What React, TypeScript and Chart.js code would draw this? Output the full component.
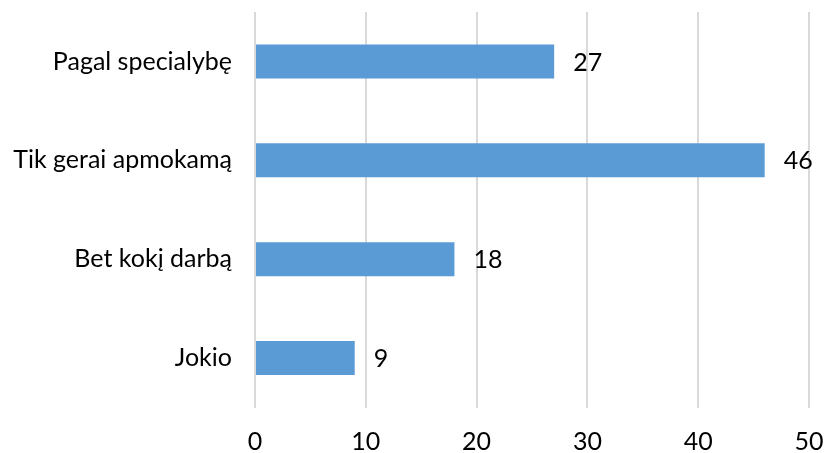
import React, { useEffect, useRef } from "react";
import { Chart, registerables } from "chart.js";

Chart.register(...registerables);

const categories = ["Pagal specialybę", "Tik gerai apmokamą", "Bet kokį darbą", "Jokio"];
const values = [27, 46, 18, 9];
const xTicks = [0, 10, 20, 30, 40, 50];

const FONT = "Lato, 'Open Sans', sans-serif";
const FSIZE = 25;

const labelPlugin = {
  id: "barLabels",
  afterDatasetsDraw(chart: any) {
    const ctx = chart.ctx;
    const meta = chart.getDatasetMeta(0);
    ctx.save();
    ctx.font = `${FSIZE}px ${FONT}`;
    ctx.fillStyle = "#000000";
    ctx.textAlign = "left";
    ctx.textBaseline = "middle";
    meta.data.forEach((bar: any, i: number) => {
      ctx.fillText(String(values[i]), bar.x + 19, bar.y + 1);
    });
    ctx.restore();
  },
};

export default function App() {
  const ref = useRef<HTMLCanvasElement>(null);
  useEffect(() => {
    const chart = new Chart(ref.current!, {
      type: "bar",
      data: {
        labels: categories,
        datasets: [
          {
            data: values,
            backgroundColor: "#5b9bd5",
            borderWidth: 0,
            barPercentage: 0.343,
            categoryPercentage: 1,
          },
        ],
      },
      options: {
        indexAxis: "y",
        animation: false,
        responsive: false,
        maintainAspectRatio: false,
        layout: { padding: { top: 12, right: 17, left: 0, bottom: 0 } },
        plugins: { legend: { display: false }, tooltip: { enabled: false } },
        scales: {
          x: {
            min: 0,
            max: 50,
            afterBuildTicks: (scale: any) => {
              scale.ticks = xTicks.map((v) => ({ value: v }));
            },
            grid: { color: "#d9d9d9", lineWidth: 2, drawTicks: false },
            border: { display: false },
            ticks: { color: "#000000", font: { family: FONT, size: FSIZE }, padding: 19 },
            afterFit: (scale: any) => {
              scale.height = 45.5;
              scale.paddingLeft = 0;
              scale.paddingRight = 0;
              scale.paddingTop = 0;
              scale.paddingBottom = 0;
            },
          },
          y: {
            grid: { display: false },
            border: { display: false },
            ticks: { color: "#000000", font: { family: FONT, size: FSIZE }, padding: 15 },
            afterFit: (scale: any) => {
              scale.width = 255;
              scale.paddingLeft = 0;
              scale.paddingRight = 0;
              scale.paddingTop = 0;
              scale.paddingBottom = 0;
            },
          },
        },
      },
      plugins: [labelPlugin],
    });
    return () => chart.destroy();
  }, []);
  return (
    <div style={{ position: "fixed", left: 0, top: 0, width: 826, height: 453, background: "#ffffff" }}>
      <canvas ref={ref} width={826} height={453} />
    </div>
  );
}
